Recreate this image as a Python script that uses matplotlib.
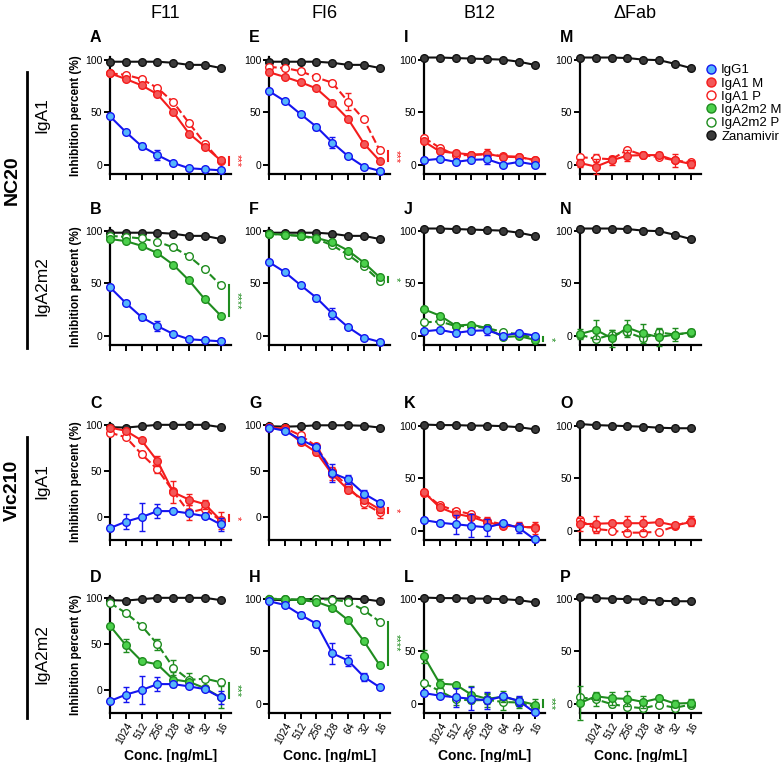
import matplotlib
matplotlib.use('Agg')
import matplotlib.pyplot as plt
from matplotlib.lines import Line2D

plt.rcParams['font.family'] = ['Liberation Sans', 'DejaVu Sans']

conc_labels = ['', '1024', '512', '256', '128', '64', '32', '16']
antibodies = ['F11', 'FI6', 'B12', 'ΔFab']
x = list(range(8))

# --- NC20 ---
zan_AB = [98, 98, 98, 98, 97, 95, 95, 92]
igg_AB = [46, 31, 17.5, 9, 1.5, -3.5, -4.5, -5.5]
igg_AB_err = [0, 0, 3, 4.5, 0, 0, 2, 0]
A_M = [87, 81.5, 75.5, 67, 50, 29.5, 17, 4]
A_P = [87, 85.5, 81.5, 73, 59.5, 39.5, 20, 3]
B_M = [92, 90, 85.5, 78.5, 67.5, 52.5, 34.5, 19]
B_P = [95, 94, 92.5, 89.5, 84, 75.5, 63, 48]

zan_EF = [98, 98, 98, 98, 97, 95, 95, 92]
igg_EF = [70, 60.5, 48, 36, 21, 8, -2, -6]
igg_EF_err = [0, 0, 2, 3, 5, 0, 0, 0]
E_M = [88, 83.5, 78.5, 72.5, 59, 43.5, 20, 3.5]
E_P = [93, 92, 89, 83, 78, 60, 43, 13.5]
E_P_err = [0, 0, 0, 0, 0, 8, 0, 2]
F_M = [97, 96, 95, 93, 89, 81, 69.5, 55.5]
F_P = [97, 96, 95, 92, 86, 77, 66, 52]

zan_IJ = [102, 102, 101.5, 101, 100.5, 100, 98, 95]
igg_IJ = [4, 5.5, 2.5, 4.5, 5, 0, 2.5, 0]
igg_IJ_err = [0, 2, 0, 0, 4, 0, 0, 0]
I_M = [22, 12.5, 11, 9.5, 10, 7.5, 7, 4.5]
I_M_err = [0, 0, 0, 0, 5, 3, 0, 0]
I_P = [25.5, 16, 9, 9, 10, 8, 7.5, 4]
J_M = [25, 19, 9.5, 10.5, 7, -1.5, -0.5, -4]
J_P = [12.5, 13.5, 9, 9, 7, 3.5, 1, -2]
J_M_err = [0, 0, 0, 0, 3, 0, 0, 0]

zan_MN = [102, 102, 102, 101.5, 100, 99.5, 96, 92]
M_M = [1.5, -2, 4, 8.5, 9, 9, 4, 0.5]
M_M_err = [4, 7, 4, 5, 3, 3, 6, 4]
M_P = [7, 6, 5, 14, 9, 7, 4, 2]
M_P_err = [0, 4, 0, 0, 0, 0, 0, 0]
N_M = [1.5, 5.5, -2.5, 7.5, 2, -1.5, 1, 3]
N_M_err = [5, 9, 8, 7, 9, 8, 6, 3]
N_P = [1, -3.5, 1, 3, -2.5, 3, 1, 2.5]
N_P_err = [0, 2, 4, 4, 3, 4, 0, 0]

# --- Vic210 ---
zan_CD = [98, 97.5, 99, 100.5, 100.5, 100.5, 100.5, 98]
igg_CD = [-12, -5, 0, 6.5, 6.5, 4, 1, -8]
igg_CD_err = [2, 8, 15, 8, 0, 0, 0, 7]
C_M = [97.5, 94, 83.5, 61, 27, 19, 14, -3.5]
C_M_err = [0, 0, 0, 5, 12, 6, 5, 9]
C_P = [92, 87, 68.5, 52, 28, 5, 9, -4]
C_P_err = [0, 0, 3, 4, 0, 8, 0, 0]
D_M = [70, 49, 31.5, 28, 11.5, 9, 2, -8]
D_M_err = [0, 7, 0, 0, 8, 0, 0, 12]
D_P = [95, 84, 70, 50, 24.5, 11, 12.5, 8.5]
D_P_err = [0, 0, 0, 6, 8, 8, 0, 0]

zan_GH = [99, 98.5, 99, 100, 100, 100, 99.5, 97.5]
igg_GH = [97.5, 94, 84.5, 76, 48, 41, 25.5, 15.5]
igg_GH_err = [0, 0, 3, 3, 10, 5, 4, 2]
G_M = [98, 96, 82, 70.5, 46.5, 30, 18.5, 8.5]
G_M_err = [0, 0, 4, 3, 6, 4, 3, 4]
G_P = [97, 97, 89, 77, 50, 33, 15, 5]
G_P_err = [0, 0, 0, 3, 5, 0, 5, 6]
H_M = [99.5, 99.5, 98.5, 97, 91.5, 79.5, 59.5, 36.5]
H_P = [100, 99.5, 99, 99.5, 99, 97, 89, 78]

zan_KL = [101, 100.5, 100.5, 100, 100, 99.5, 98.5, 96.5]
igg_KL = [10, 7.5, 6, 4.5, 3, 7, 2.5, -8.5]
igg_KL_err = [0, 0, 9, 11, 8, 0, 5, 0]
K_M = [36.5, 22, 16, 13, 8, 4.5, 4, 2.5]
K_M_err = [0, 2, 0, 0, 5, 0, 4, 6]
K_P = [36, 24, 19, 15.5, 9, 6, 3, 3.5]
L_M = [45, 19, 18, 8.5, 4.5, 6.5, 2.5, -1]
L_M_err = [6, 4, 0, 8, 5, 5, 4, 5]
L_P = [19.5, 12, 4, 3, 3.5, 1.5, 1, -3]
L_P_err = [0, 7, 5, 0, 7, 8, 5, 0]

zan_OP = [101.5, 100.5, 100, 99.5, 99, 98, 97.5, 97.5]
O_M = [6, 6.5, 7, 7, 7, 8, 5, 8]
O_M_err = [6, 7, 0, 7, 7, 0, 2, 4]
O_P = [10, 1.5, 0, -2, -2, -1, 4, 9.5]
O_P_err = [3, 4, 0, 0, 0, 0, 0, 4]
P_M = [0.5, 7, 5, 4.5, 1.5, 5, 0, 0.5]
P_M_err = [16, 4, 6, 7, 6, 0, 3, 4]
P_P = [6, 4, -0.5, -3, -4.5, -1, -4, -1]
P_P_err = [0, 6, 3, 0, 3, 0, 0, 0]

BLUE, BLUE_F = '#1414f0', '#55b6fa'
RED, RED_F = '#f41c1c', '#f25858'
GREEN, GREEN_F = '#1f8c1f', '#4cd04c'
ZAN = '#3a3a3a'
iso_col = {'IgA1': (RED, RED_F), 'IgA2m2': (GREEN, GREEN_F)}

# letter, row, col, zan, igg, igg_err, M, M_err, P, P_err, isotype, ylow, significance
panels = [
    ('A', 0, 0, zan_AB, igg_AB, igg_AB_err, A_M, None, A_P, None, 'IgA1', -9, (0, 7, '***')),
    ('B', 1, 0, zan_AB, igg_AB, igg_AB_err, B_M, None, B_P, None, 'IgA2m2', -9, (19, 48, '****')),
    ('C', 2, 0, zan_CD, igg_CD, igg_CD_err, C_M, C_M_err, C_P, C_P_err, 'IgA1', -25, (-4, 2, '*')),
    ('D', 3, 0, zan_CD, igg_CD, igg_CD_err, D_M, D_M_err, D_P, D_P_err, 'IgA2m2', -25, (-9, 8, '***')),
    ('E', 0, 1, zan_EF, igg_EF, igg_EF_err, E_M, None, E_P, E_P_err, 'IgA1', -9, (3, 13, '***')),
    ('F', 1, 1, zan_EF, igg_EF, igg_EF_err, F_M, None, F_P, None, 'IgA2m2', -9, (51, 56, '*')),
    ('G', 2, 1, zan_GH, igg_GH, igg_GH_err, G_M, G_M_err, G_P, G_P_err, 'IgA1', -25, (4, 10, '*')),
    ('H', 3, 1, zan_GH, igg_GH, igg_GH_err, H_M, None, H_P, None, 'IgA2m2', -9, (37, 78, '****')),
    ('I', 0, 2, zan_IJ, igg_IJ, igg_IJ_err, I_M, I_M_err, I_P, None, 'IgA1', -9, None),
    ('J', 1, 2, zan_IJ, igg_IJ, igg_IJ_err, J_M, J_M_err, J_P, None, 'IgA2m2', -9, (-5, -1, '*')),
    ('K', 2, 2, zan_KL, igg_KL, igg_KL_err, K_M, K_M_err, K_P, None, 'IgA1', -9, None),
    ('L', 3, 2, zan_KL, igg_KL, igg_KL_err, L_M, L_M_err, L_P, L_P_err, 'IgA2m2', -9, (-3, 3, '***')),
    ('M', 0, 3, zan_MN, None, None, M_M, M_M_err, M_P, M_P_err, 'IgA1', -9, None),
    ('N', 1, 3, zan_MN, None, None, N_M, N_M_err, N_P, N_P_err, 'IgA2m2', -9, None),
    ('O', 2, 3, zan_OP, None, None, O_M, O_M_err, O_P, O_P_err, 'IgA1', -9, None),
    ('P', 3, 3, zan_OP, None, None, P_M, P_M_err, P_P, P_P_err, 'IgA2m2', -9, None),
]

W, H = 784, 762
col_left = [110, 269, 424, 580]
row_top = [57, 228, 423, 596]
ax_w, ax_h = 121, 117

fig = plt.figure(figsize=(W / 100, H / 100), dpi=100)


def draw(ax, y, err, line, face, dashed=False, z=3):
    c = ax.errorbar(x, y, yerr=err, color=line, ls='--' if dashed else '-', lw=1.5,
                    marker='o', ms=5.5, mfc=face, mec=line, mew=1.0,
                    capsize=2.2, elinewidth=1.0, capthick=1.0, zorder=z)
    for a in c.get_children():
        a.set_clip_on(False)


for (letter, r, ci, zan, igg, igg_err, ym, ym_err, yp, yp_err, iso, ylow, sig) in panels:
    left, top = col_left[ci], row_top[r]
    ax = fig.add_axes([left / W, 1 - (top + ax_h) / H, ax_w / W, ax_h / H])
    line, face = iso_col[iso]

    draw(ax, zan, None, '#111111', ZAN, z=3)
    draw(ax, yp, yp_err, line, 'white', dashed=True, z=4)
    draw(ax, ym, ym_err, line, face, z=5)
    if igg is not None:
        draw(ax, igg, igg_err, BLUE, BLUE_F, z=6)

    if sig is not None:
        lo, hi, stars = sig
        ax.plot([7.5, 7.5], [lo, hi], color=line, lw=1.5, clip_on=False)
        ax.text(8.0, (lo + hi) / 2, stars, rotation=270, color=line, fontsize=8,
                ha='center', va='center', clip_on=False)

    ax.set_xlim(0, 7.65)
    ax.set_ylim(ylow, 102.5)
    ax.set_yticks([0, 50, 100])
    ax.set_xticks(x)
    for s in ['top', 'right']:
        ax.spines[s].set_visible(False)
    for s in ['left', 'bottom']:
        ax.spines[s].set_linewidth(1.6)
    ax.tick_params(width=1.4, length=4, labelsize=7.5, pad=1.5)
    if r == 3:
        ax.set_xticklabels(conc_labels, rotation=60, ha='right', rotation_mode='anchor',
                           fontsize=7.5)
        ax.set_xlabel('Conc. [ng/mL]', fontsize=10, fontweight='bold', labelpad=2)
    else:
        ax.set_xticklabels([])
    if ci == 0:
        ax.set_ylabel('Inhibition percent (%)', fontsize=8.5, fontweight='bold', labelpad=2)

    fig.text((left - 20) / W, 1 - (top - 19) / H, letter, fontsize=11.5, fontweight='bold',
             ha='left', va='center')

for ci, name in enumerate(antibodies):
    fig.text((col_left[ci] + ax_w / 2 - 5) / W, 1 - 13 / H, name, fontsize=13,
             ha='center', va='center')

# row labels
for r, iso in enumerate(['IgA1', 'IgA2m2', 'IgA1', 'IgA2m2']):
    fig.text(42 / W, 1 - (row_top[r] + ax_h / 2) / H, iso, fontsize=12.5, rotation=90,
             ha='center', va='center')
for (y0, y1, yt, virus) in [(72, 348, 180, 'NC20'), (437, 718, 490, 'Vic210')]:
    fig.add_artist(Line2D([27 / W, 27 / W], [1 - y0 / H, 1 - y1 / H], color='black', lw=2))
    fig.text(12 / W, 1 - yt / H, virus, fontsize=14, fontweight='bold', rotation=90,
             ha='center', va='center')

# legend
legend_items = [
    ('IgG1', BLUE, BLUE_F), ('IgA1 M', RED, RED_F), ('IgA1 P', RED, 'white'),
    ('IgA2m2 M', GREEN, GREEN_F), ('IgA2m2 P', GREEN, 'white'), ('Zanamivir', '#111111', ZAN),
]
handles = [Line2D([], [], ls='none', marker='o', ms=6.5, mfc=f, mec=c, mew=1.0, label=n)
           for n, c, f in legend_items]
fig.legend(handles=handles, loc='upper left', bbox_to_anchor=(706 / W, 1 - 64 / H),
           frameon=False, fontsize=9.5, handlelength=0.8, handletextpad=0.35,
           labelspacing=0.08, borderpad=0, borderaxespad=0)

fig.savefig('out.png', dpi=100)
